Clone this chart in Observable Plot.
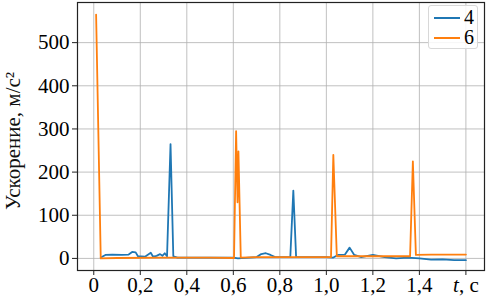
<!DOCTYPE html>
<html>
<head>
<meta charset="utf-8">
<script src="https://cdn.jsdelivr.net/npm/d3@7"></script>
<script src="https://cdn.jsdelivr.net/npm/@observablehq/plot@0.6"></script>
<style>
  html, body { margin: 0; padding: 0; background: #fff; }
  #wrap { position: relative; width: 487px; height: 296px; }
  #legend { position: absolute; left: 428px; top: 5px; width: 50px; height: 44px;
    border: 1px solid #d8d8d8; border-radius: 3px; background: rgba(255,255,255,0.85);
    font-family: "Liberation Serif", serif; font-size: 20px; box-sizing: border-box; }
  .item { position: absolute; left: 5px; height: 19px; line-height: 19px; display: flex; align-items: center; }
  .sw { width: 26px; height: 2px; margin-right: 4px; }
</style>
</head>
<body>
<div id="wrap"></div>
<script>
const seriesNames = ["4", "6"];
const seriesColors = ["#1f77b4", "#ff7f0e"];

const t4 = [0.03, 0.05, 0.08, 0.12, 0.15, 0.165, 0.18, 0.19, 0.22, 0.245, 0.255, 0.27, 0.285, 0.295, 0.305, 0.315, 0.33, 0.342, 0.36, 0.5, 0.6, 0.62, 0.7, 0.72, 0.74, 0.76, 0.78, 0.845, 0.858, 0.87, 0.9, 1.0, 1.03, 1.05, 1.08, 1.1, 1.12, 1.15, 1.2, 1.25, 1.3, 1.35, 1.4, 1.45, 1.5, 1.55, 1.6];
const a4 = [2, 8, 9, 8, 9, 15, 14, 5, 4, 13, 4, 6, 10, 6, 12, 5, 265, 5, 2, 2, 2, 0, 3, 10, 12, 8, 3, 3, 157, 3, 3, 3, 2, 8, 9, 25, 8, 3, 8, 3, 0, 2, 0, -3, -2, -4, -4];

const t6 = [0.01, 0.03, 0.1, 0.3, 0.5, 0.603, 0.612, 0.618, 0.622, 0.632, 0.7, 0.9, 1.02, 1.03, 1.045, 1.1, 1.2, 1.36, 1.372, 1.385, 1.45, 1.6];
const a6 = [565, 0, 1, 2, 2, 1, 295, 130, 248, 2, 3, 3, 3, 240, 5, 5, 5, 5, 225, 8, 9, 9];

const xTicks = [0, 0.2, 0.4, 0.6, 0.8, 1.0, 1.2, 1.4, 1.6];
const xTickLabels = ["0", "0,2", "0,4", "0,6", "0,8", "1,0", "1,2", "1,4", "t, c"];
const yTicks = [0, 100, 200, 300, 400, 500];
const yLabel = "Ускорение, м/с²";

const data = [
  ...t4.map((t, i) => ({t, a: a4[i], s: seriesNames[0]})),
  ...t6.map((t, i) => ({t, a: a6[i], s: seriesNames[1]}))
];

const chart = Plot.plot({
  width: 487,
  height: 296,
  marginLeft: 77,
  marginRight: 3,
  marginTop: 2,
  marginBottom: 26,
  style: { fontFamily: "Liberation Serif, serif", fontSize: "21px", background: "#fff", overflow: "visible" },
  x: { domain: [-0.07, 1.68], ticks: xTicks, tickFormat: (d, i) => xTickLabels[xTicks.indexOf(d)], label: null },
  y: { domain: [-28, 593], ticks: yTicks, label: null },
  color: { domain: seriesNames, range: seriesColors },
  marks: [
    Plot.gridX(xTicks, { stroke: "#b0b0b0", strokeOpacity: 0.8, strokeWidth: 1 }),
    Plot.gridY(yTicks, { stroke: "#b0b0b0", strokeOpacity: 0.8, strokeWidth: 1 }),
    Plot.axisX(xTicks, { tickSize: 5, tickPadding: 2, stroke: "#222", fontSize: 21, tickFormat: (d) => xTickLabels[xTicks.indexOf(d)] }),
    Plot.axisY(yTicks, { tickSize: 5, tickPadding: 3, stroke: "#222", fontSize: 21, label: null }),
    Plot.line(data, { x: "t", y: "a", z: "s", stroke: "s", strokeWidth: 1.8, strokeLinejoin: "round" }),
    Plot.frame({ stroke: "#222", strokeWidth: 1.2 })
  ]
});

document.getElementById("wrap").appendChild(chart);

d3.select(chart).selectAll("text").each(function () {
  if (this.textContent === "t, c") {
    const el = d3.select(this);
    el.text("");
    el.append("tspan").attr("font-style", "italic").text("t");
    el.append("tspan").text(", c");
  }
});

// y-axis label
const lab = d3.select(chart).append("text")
  .attr("text-anchor", "middle")
  .attr("dominant-baseline", "central")
  .attr("font-family", "Liberation Serif, serif")
  .attr("font-size", 21)
  .attr("fill", "#111")
  .text(yLabel);
const w = lab.node().getComputedTextLength();
const k = w > 0 ? Math.min(1, 207 / w) : 0.8;
lab.attr("transform", `translate(13,141) rotate(-90) scale(${k},1)`);

// legend
const leg = document.createElement("div");
leg.id = "legend";
seriesNames.forEach((n, i) => {
  const it = document.createElement("div");
  it.className = "item";
  it.style.top = (2 + i * 20) + "px";
  const sw = document.createElement("div");
  sw.className = "sw";
  sw.style.background = seriesColors[i];
  const lb = document.createElement("span");
  lb.textContent = n;
  it.appendChild(sw);
  it.appendChild(lb);
  leg.appendChild(it);
});
document.getElementById("wrap").appendChild(leg);
</script>
</body>
</html>
